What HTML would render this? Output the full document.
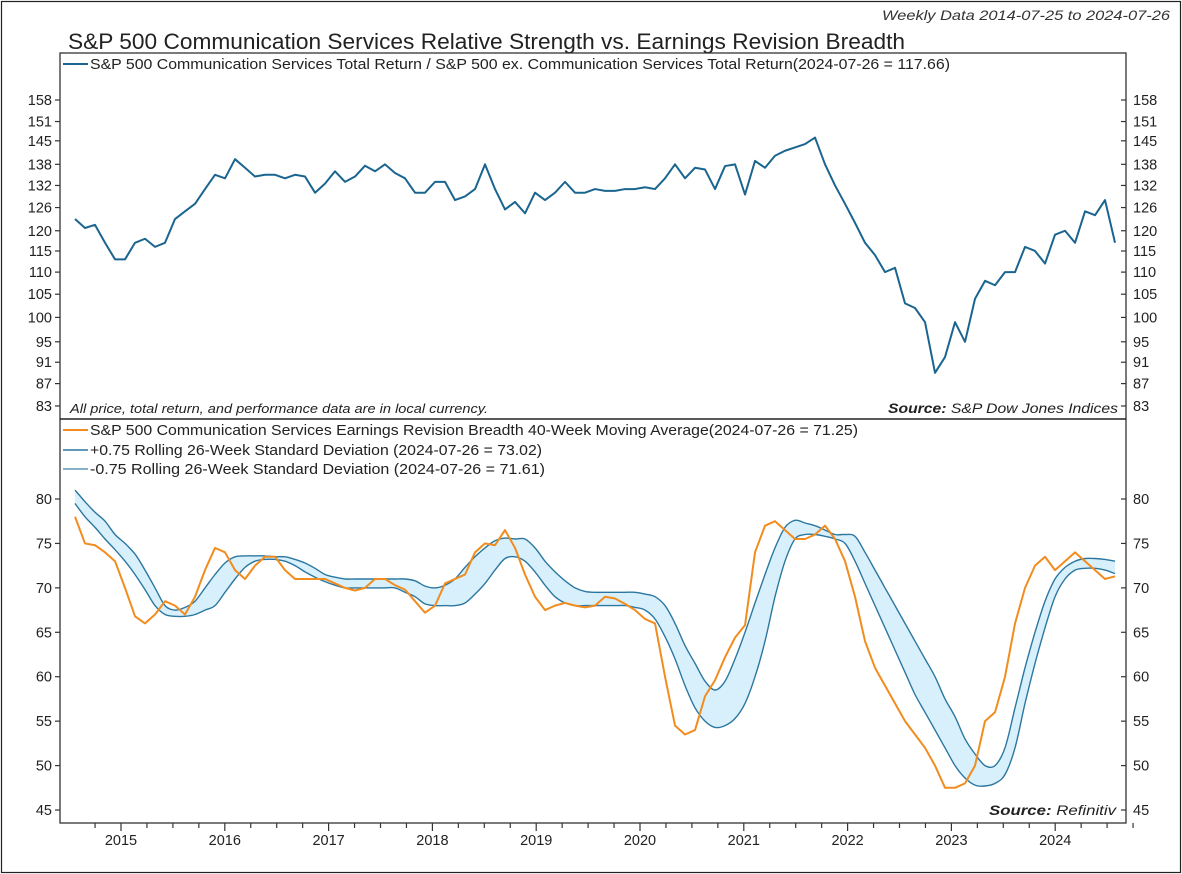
<!DOCTYPE html>
<html><head><meta charset="utf-8"><style>
html,body{margin:0;padding:0;background:#fff;}
svg{display:block;font-family:"Liberation Sans",sans-serif;}
</style></head><body>
<svg id="chart" width="1182" height="874" viewBox="0 0 1182 874">
<rect x="1.5" y="1.5" width="1179" height="871" fill="none" stroke="#222" stroke-width="1.2"/>
<text x="1170" y="20" text-anchor="end" font-size="14" font-style="italic" fill="#333" textLength="288" lengthAdjust="spacingAndGlyphs">Weekly Data 2014-07-25 to 2024-07-26</text>
<text x="68" y="49" font-size="22" fill="#222" textLength="837" lengthAdjust="spacingAndGlyphs">S&amp;P 500 Communication Services Relative Strength vs. Earnings Revision Breadth</text>
<rect x="60" y="53" width="1066" height="770" fill="none" stroke="#333" stroke-width="1.3"/>
<line x1="60" y1="419" x2="1126" y2="419" stroke="#222" stroke-width="1.5"/>
<g id="band-layer"></g>
<g id="lines-layer"></g>
<g id="axes-layer"></g>
<line x1="63" y1="64" x2="88" y2="64" stroke="#1a6590" stroke-width="2"/>
<text x="90" y="69" font-size="15" fill="#222" textLength="860" lengthAdjust="spacingAndGlyphs">S&amp;P 500 Communication Services Total Return / S&amp;P 500 ex. Communication Services Total Return(2024-07-26 = 117.66)</text>
<text x="70" y="413" font-size="13" font-style="italic" fill="#222" textLength="418" lengthAdjust="spacingAndGlyphs">All price, total return, and performance data are in local currency.</text>
<text x="1118" y="413" text-anchor="end" font-size="14" font-style="italic" fill="#222" textLength="230" lengthAdjust="spacingAndGlyphs"><tspan font-weight="bold">Source:</tspan>   S&amp;P Dow Jones Indices</text>
<line x1="63" y1="430" x2="88" y2="430" stroke="#f28c1e" stroke-width="2"/>
<text x="90" y="435" font-size="15" fill="#222" textLength="768" lengthAdjust="spacingAndGlyphs">S&amp;P 500 Communication Services Earnings Revision Breadth 40-Week Moving Average(2024-07-26 = 71.25)</text>
<line x1="63" y1="450" x2="88" y2="450" stroke="#2b77a0" stroke-width="1.5"/>
<text x="90" y="455" font-size="15" fill="#222" textLength="452" lengthAdjust="spacingAndGlyphs">+0.75 Rolling 26-Week Standard Deviation (2024-07-26 = 73.02)</text>
<line x1="63" y1="469" x2="88" y2="469" stroke="#5b95b5" stroke-width="1.5"/>
<text x="90" y="474" font-size="15" fill="#222" textLength="455" lengthAdjust="spacingAndGlyphs">-0.75 Rolling 26-Week Standard Deviation (2024-07-26 = 71.61)</text>
<text x="1116" y="815" text-anchor="end" font-size="14" font-style="italic" fill="#222" textLength="127" lengthAdjust="spacingAndGlyphs"><tspan font-weight="bold">Source:</tspan>   Refinitiv</text>
</svg>
<script>
const startYear = 2014.557;
const stepYears = 0.09634;
const topTicks = [158,151,145,138,132,126,120,115,110,105,100,95,91,87,83];
const bottomTicks = [80,75,70,65,60,55,50,45];
const yearLabels = [2015,2016,2017,2018,2019,2020,2021,2022,2023,2024];
const relStrength = [123,120.7,121.5,117,113,113,117,118,116,117,
123,125,127,131,135,134,139.5,137,134.5,135,
135,134,135,134.5,130,132.5,136,133,134.5,137.6,
136,138,135.5,134,130,130,133,133,128,129,
131,138,131,125.5,127.5,124.5,130,128,130,133,
130,130,131,130.5,130.5,131,131,131.5,131,134,
138,134,137,136.5,131,137.5,138,129.5,139,137,
140.5,142,143,144,146,138,132,127,122,117,
114,110,111,103,102,99,89,92,99,95,
104,108,107,110,110,116,115,112,119,120,
117,125,124,128,117];
const breadthMA = [78,75,74.8,74,73,70,66.8,66,67,68.5,
68,67,69,72,74.5,74,72,71,72.5,73.5,
73.5,72,71,71,71,71,70.5,70,69.7,70,
71,71,70.3,69.8,68.5,67.2,68,70.5,71,71.5,
74,75,74.8,76.5,74.5,71.5,69,67.5,68,68.3,
68,67.8,68,69,68.8,68.2,67.5,66.5,66,60,
54.5,53.5,54,57.8,59.6,62.2,64.4,65.8,74,77,
77.5,76.5,75.5,75.5,76,77,75.5,73,69,64,
61,59,57,55,53.5,52,50,47.5,47.5,48,
50,55,56,60,66,70,72.5,73.5,72,73,
74,73,72,71,71.3];
const upperBand = [81,79.7,78.5,77.5,76,75,73.8,72,70,68,
67.5,67.8,68.5,70,71.5,72.8,73.5,73.6,73.6,73.6,
73.5,73.5,73.2,72.8,72.2,71.5,71.2,71,71,71,
71,71,71,71,70.8,70.2,70,70.3,71,72.3,
73.5,74.5,75.3,75.6,75.5,75.5,74.5,73,71.8,70.8,
70,69.6,69.5,69.5,69.5,69.5,69.5,69.3,69,68,
66,63.5,61.5,59.5,58.5,59.5,62,65,68.3,71.5,
74.5,76.8,77.6,77.3,77,76.5,76,76,75.8,74,
72,70,68,66,64,62,60,57.5,55.5,53,
51.3,50,50,52,56.5,61,65,68.5,71,72.3,
73,73.3,73.3,73.2,73];
const lowerBand = [79.5,78,76.8,75.5,74.3,73,71.5,69.8,68,67,
66.8,66.8,67,67.5,68,69.5,71,72.3,73,73.2,
73.2,73,72.5,71.8,71.2,70.7,70.3,70,70,70,
70,70,70,69.5,69,68.2,68,68,68,68.3,
69.3,70.5,72,73.3,73.5,73,71.8,70.3,69,68.3,
68,68,68,68,68,68,67.8,67.5,66.5,64.5,
62,59,56.5,55,54.3,54.5,55.3,57,60,64,
69,73,75.5,76,76,75.8,75.5,75,73,70.5,
68,65.5,63,60.5,58,56,54,52,50,48.6,
47.8,47.7,48,49,52,57,61.5,65.5,69,71,
72,72.2,72.2,72,71.6];

const NS = 'http://www.w3.org/2000/svg';
function xScale(year){ return 121 + (year - 2015) * 103.8; }
function yTop(v){ return 100 + (Math.log(158) - Math.log(v)) * 475.3; }
function yBot(v){ return 499 + (80 - v) * 8.886; }
function dateAt(i){ return startYear + i * stepYears; }
function mk(tag, attrs, parent){
  const el = document.createElementNS(NS, tag);
  for (const k in attrs) el.setAttribute(k, attrs[k]);
  parent.appendChild(el);
  return el;
}
function pts(arr, yf){ return arr.map((v,i)=>[xScale(dateAt(i)), yf(v)]); }
function smooth(p){
  let d = 'M' + p[0][0].toFixed(1) + ',' + p[0][1].toFixed(1);
  for (let i=0;i<p.length-1;i++){
    const p0=p[Math.max(0,i-1)], p1=p[i], p2=p[i+1], p3=p[Math.min(p.length-1,i+2)];
    const c1x=p1[0]+(p2[0]-p0[0])/6, c1y=p1[1]+(p2[1]-p0[1])/6;
    const c2x=p2[0]-(p3[0]-p1[0])/6, c2y=p2[1]-(p3[1]-p1[1])/6;
    d += 'C'+c1x.toFixed(1)+','+c1y.toFixed(1)+' '+c2x.toFixed(1)+','+c2y.toFixed(1)+' '+p2[0].toFixed(1)+','+p2[1].toFixed(1);
  }
  return d;
}
const bandLayer = document.getElementById('band-layer');
const linesLayer = document.getElementById('lines-layer');
const axes = document.getElementById('axes-layer');

const up = pts(upperBand, yBot), lo = pts(lowerBand, yBot);
const fillPts = up.concat(lo.slice().reverse()).map(p=>p[0].toFixed(1)+','+p[1].toFixed(1)).join(' ');
const bandFill = mk('polygon', {points: fillPts, fill:'#d8f0fc', stroke:'none'}, bandLayer);



const upLine = mk('path', {d: smooth(up), fill:'none', stroke:'#2b77a0', 'stroke-width':1.4}, linesLayer);


const loLine = mk('path', {d: smooth(lo), fill:'none', stroke:'#2b77a0', 'stroke-width':1.4}, linesLayer);



const orange = mk('polyline', {points: pts(breadthMA, yBot).map(p=>p.join(',')).join(' '), fill:'none', stroke:'#f28c1e', 'stroke-width':2, 'stroke-linejoin':'round'}, linesLayer);



const rs = mk('polyline', {points: pts(relStrength, yTop).map(p=>p.join(',')).join(' '), fill:'none', stroke:'#1a6590', 'stroke-width':2, 'stroke-linejoin':'round'}, linesLayer);



topTicks.forEach(v=>{
  const y = yTop(v);
  mk('line',{x1:55,y1:y,x2:60,y2:y,stroke:'#333','stroke-width':1.2},axes);
  mk('line',{x1:1121,y1:y,x2:1126,y2:y,stroke:'#333','stroke-width':1.2},axes);
  const tl = mk('text',{x:52,y:y+5,'text-anchor':'end','font-size':14.5,fill:'#222'},axes);
  tl.textContent = v;
  
  
  const tr = mk('text',{x:1133,y:y+5,'font-size':14.5,fill:'#222'},axes);
  tr.textContent = v;
  
  
});
bottomTicks.forEach(v=>{
  const y = yBot(v);
  mk('line',{x1:55,y1:y,x2:60,y2:y,stroke:'#333','stroke-width':1.2},axes);
  mk('line',{x1:1121,y1:y,x2:1126,y2:y,stroke:'#333','stroke-width':1.2},axes);
  const tl = mk('text',{x:52,y:y+5,'text-anchor':'end','font-size':14.5,fill:'#222'},axes);
  tl.textContent = v;
  
  
  const tr = mk('text',{x:1133,y:y+5,'font-size':14.5,fill:'#222'},axes);
  tr.textContent = v;
  
  
});
for (let q = 2014.75; q < 2024.76; q += 0.25){
  const x = xScale(q);
  const major = Math.abs(q - Math.round(q)) < 0.01;
  mk('line',{x1:x,y1:823,x2:x,y2:major?831:828,stroke:'#333','stroke-width':1.2},axes);
}
yearLabels.forEach(yr=>{
  const t = mk('text',{x:xScale(yr),y:845,'text-anchor':'middle','font-size':14.5,fill:'#222'},axes);
  t.textContent = yr;
  
  
});
</script>
</body></html>
